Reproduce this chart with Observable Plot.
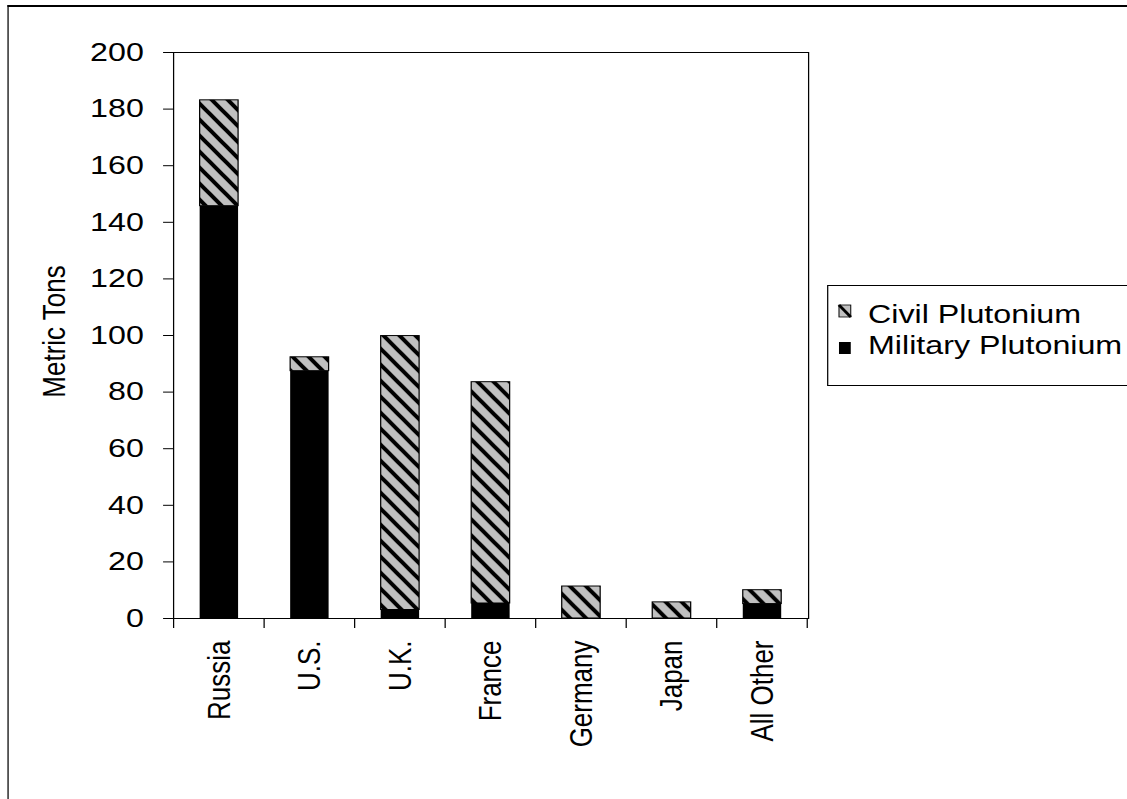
<!DOCTYPE html>
<html>
<head>
<meta charset="utf-8">
<script src="https://cdn.jsdelivr.net/npm/d3@7"></script>
<script src="https://cdn.jsdelivr.net/npm/@observablehq/plot@0.6"></script>
<style>
  html, body { margin: 0; padding: 0; background: #fff; overflow: hidden; }
  /* The chart is laid out in a narrower box and stretched horizontally */
  #chart {
    position: absolute; left: 0; top: 0;
    width: 909px; height: 799px;
    transform: scaleX(1.24); transform-origin: 0 0;
    font-family: "Liberation Sans", Arial, sans-serif;
  }
  #border {
    position: absolute; left: 5.6px; top: 5px;
    width: 2000px; height: 2000px;
    border-top: 2px solid #000; border-left: 1.6px solid #000;
  }
  #chart svg { position: absolute; left: 0; top: 0; }
</style>
</head>
<body>
<!-- shared hatch pattern for the civil segments -->
<svg width="0" height="0" style="position:absolute">
  <defs>
    <pattern id="civilHatch" patternUnits="userSpaceOnUse" width="12.9" height="16">
      <rect width="12.9" height="16" fill="#c0c0c0"/>
      <path d="M-12.9,0L12.9,32M-12.9,-16L25.8,32M0,-16L25.8,16" stroke="#000" stroke-width="3.6" fill="none"/>
    </pattern>
  </defs>
</svg>
<div id="chart"><div id="border"></div></div>
<script>
// Plutonium stocks by country, metric tons
const countries = ["Russia", "U.S.", "U.K.", "France", "Germany", "Japan", "All Other"];
const military  = [145.7, 87.4, 3, 5.3, 0, 0, 5.1];
const civil     = [37.4, 4.9, 96.8, 78.2, 11.3, 5.7, 4.9];
const yTicks = d3.range(0, 201, 20);
const seriesLabels = ["Civil Plutonium", "Military Plutonium"];
const axisTitle = "Metric Tons";

const rows = countries.map((country, i) => ({country, military: military[i], civil: civil[i]}));

// Tick marks on the category boundaries below the x axis
function boundaryTicks(index, scales, values, dimensions) {
  const x = scales.x;
  const band = typeof x.bandwidth === "function" ? x.bandwidth() : 0;
  const step = x(countries[1]) - x(countries[0]);
  const edges = countries.map(c => x(c) - (step - band) / 2);
  edges.push(edges[edges.length - 1] + step);
  const y0 = dimensions.height - dimensions.marginBottom;
  const g = d3.create("svg:g").attr("stroke", "#000").attr("stroke-width", 1);
  g.selectAll("line").data(edges).join("line")
    .attr("x1", d => d).attr("x2", d => d)
    .attr("y1", y0).attr("y2", y0 + 10);
  return g.node();
}

const chart = Plot.plot({
  width: 909,
  height: 799,
  marginTop: 52,
  marginBottom: 181,
  marginLeft: 139.5,
  marginRight: 257.4,
  style: {
    fontFamily: '"Liberation Sans", Arial, sans-serif',
    fontSize: "26px",
    color: "#000",
    background: "transparent",
    overflow: "visible"
  },
  x: {domain: countries, paddingInner: 0.58, paddingOuter: 0.29},
  y: {domain: [0, 200]},
  marks: [
    Plot.barY(rows.filter(d => d.military > 0), {x: "country", y1: 0, y2: "military", fill: "#000"}),
    Plot.barY(rows.filter(d => d.civil > 0), {
      x: "country", y1: "military", y2: d => d.military + d.civil,
      fill: "url(#civilHatch)", stroke: "#000", strokeWidth: 1
    }),
    Plot.frame({stroke: "#000", strokeWidth: 1}),
    Plot.axisY({ticks: yTicks, tickSize: 8, tickPadding: 16, label: null, tickFormat: d => String(d)}),
    Plot.axisX({tickSize: 0, tickPadding: 22, tickRotate: -90, label: null}),
    boundaryTicks,
    Plot.text([axisTitle], {
      frameAnchor: "left", textAnchor: "middle", dx: -96, dy: -4,
      rotate: -90, fontSize: 26
    })
  ]
});
document.getElementById("chart").appendChild(chart);

// Legend box to the right of the plot
const legend = d3.create("svg")
  .attr("width", 300).attr("height", 110)
  .style("left", "667px").style("top", "285px")
  .style("font-family", '"Liberation Sans", Arial, sans-serif')
  .style("font-size", "26px");
legend.append("rect")
  .attr("x", 0.5).attr("y", 0.5).attr("width", 290).attr("height", 100)
  .attr("fill", "none").attr("stroke", "#000").attr("stroke-width", 1);
// civil swatch: grey square with a single diagonal stripe
const sw = legend.append("g").attr("transform", "translate(9.6,20)");
sw.append("rect").attr("width", 9.5).attr("height", 12).attr("fill", "#c0c0c0");
sw.append("line").attr("x1", 0).attr("y1", 0).attr("x2", 9.5).attr("y2", 12)
  .attr("stroke", "#000").attr("stroke-width", 2.6);
sw.append("rect").attr("width", 9.5).attr("height", 12).attr("fill", "none")
  .attr("stroke", "#000").attr("stroke-width", 0.8);
legend.append("rect").attr("x", 9.6).attr("y", 57).attr("width", 9.5).attr("height", 12).attr("fill", "#000");
legend.append("text").attr("x", 33).attr("y", 38).text(seriesLabels[0]);
legend.append("text").attr("x", 33).attr("y", 69).text(seriesLabels[1]);
document.getElementById("chart").appendChild(legend.node());
</script>
</body>
</html>
